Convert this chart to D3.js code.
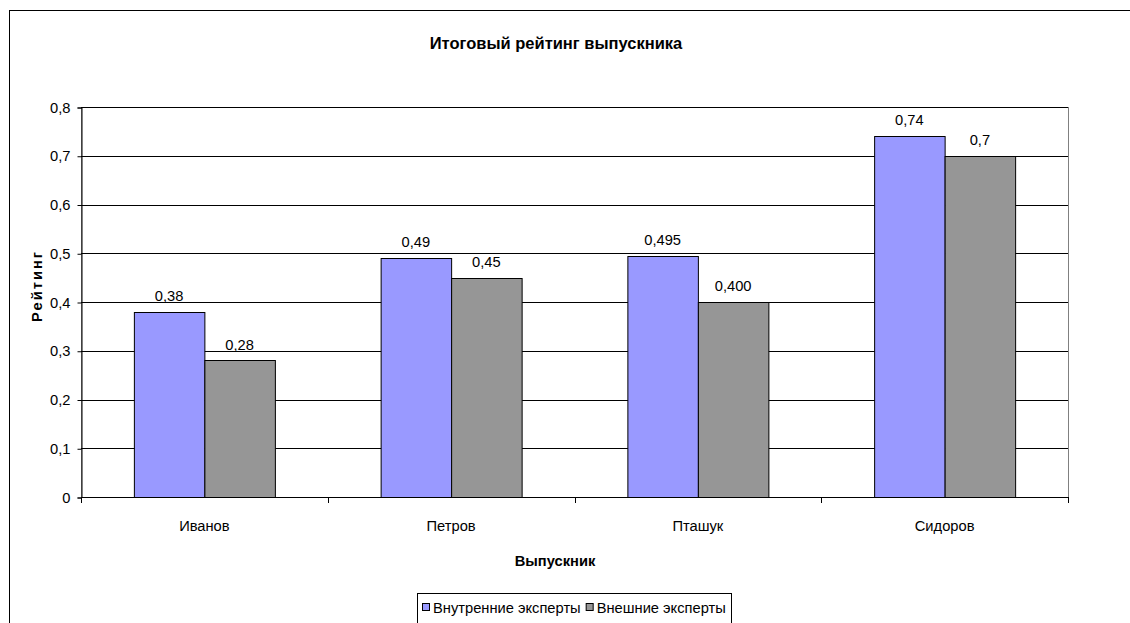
<!DOCTYPE html>
<html>
<head>
<meta charset="utf-8">
<script src="https://cdn.jsdelivr.net/npm/d3@7"></script>
<style>
  body { margin: 0; background: #fff; }
  svg { font-family: "Liberation Sans", Arial, sans-serif; }
</style>
</head>
<body>
<div id="chart"></div>
<script>
const categories = ['Иванов', 'Петров', 'Пташук', 'Сидоров'];
const seriesNames = ['Внутренние эксперты', 'Внешние эксперты'];
const innerValues = [0.38, 0.49, 0.495, 0.74];
const outerValues = [0.28, 0.45, 0.40, 0.70];
const innerLabels = ['0,38', '0,49', '0,495', '0,74'];
const outerLabels = ['0,28', '0,45', '0,400', '0,7'];
const yTicks = [0, 0.1, 0.2, 0.3, 0.4, 0.5, 0.6, 0.7, 0.8];

const COLORS = ['#9999ff', '#969696'];
const FS = '14.7px';

const W = 1130, H = 623;
const plot = { left: 81, right: 1068, top: 107, bottom: 497 };

const svg = d3.select('#chart').append('svg')
  .attr('width', W).attr('height', H);

// chart outer border
svg.append('rect')
  .attr('x', 9.5).attr('y', 10.5)
  .attr('width', W + 10).attr('height', H + 10)
  .attr('fill', 'none').attr('stroke', '#000').attr('stroke-width', 1);

svg.append('text')
  .attr('x', 556).attr('y', 49)
  .attr('text-anchor', 'middle')
  .style('font-size', '16.5px').style('font-weight', 'bold')
  .text('Итоговый рейтинг выпускника');

const x = d3.scaleBand().domain(categories)
  .range([plot.left, plot.right]).paddingInner(0).paddingOuter(0);
const y = d3.scaleLinear().domain([0, 0.8]).range([plot.bottom, plot.top]);

// bar width: Excel gap width 150%
const barW = x.bandwidth() / 3.5;

// plot area border (gray)
svg.append('rect')
  .attr('x', plot.left + 0.5).attr('y', plot.top + 0.5)
  .attr('width', plot.right - plot.left).attr('height', plot.bottom - plot.top)
  .attr('fill', 'none').attr('stroke', '#808080');

// gridlines
svg.append('g').selectAll('line').data(yTicks.slice(1)).enter().append('line')
  .attr('x1', plot.left).attr('x2', plot.right)
  .attr('y1', d => Math.round(y(d)) + 0.5).attr('y2', d => Math.round(y(d)) + 0.5)
  .attr('stroke', '#000').attr('stroke-width', 1);

const series = [
  { vals: innerValues, labels: innerLabels },
  { vals: outerValues, labels: outerLabels },
];

series.forEach((s, si) => {
  const g = svg.append('g');
  g.selectAll('rect').data(categories).enter().append('rect')
    .attr('x', (c) => x(c) + x.bandwidth() / 2 - barW + si * barW + 0.5)
    .attr('y', (c, i) => Math.round(y(s.vals[i])) + 0.5)
    .attr('width', barW)
    .attr('height', (c, i) => Math.round(y(0)) - Math.round(y(s.vals[i])))
    .attr('fill', COLORS[si]).attr('stroke', '#000').attr('stroke-width', 1);
  g.selectAll('text').data(categories).enter().append('text')
    .attr('x', (c) => x(c) + x.bandwidth() / 2 - barW / 2 + si * barW)
    .attr('y', (c, i) => y(s.vals[i]) - 11)
    .attr('text-anchor', 'middle')
    .style('font-size', FS)
    .text((c, i) => s.labels[i]);
});

// y axis
const yAxis = d3.axisLeft(y).tickValues(yTicks).tickSize(4).tickPadding(7)
  .tickFormat(d => d3.format('.1~f')(d).replace('.', ','));
const ya = svg.append('g').attr('transform', `translate(${plot.left + 0.5},0.5)`).call(yAxis);
ya.select('.domain').attr('stroke', '#000');
ya.selectAll('.tick line').attr('stroke', '#000');
ya.selectAll('.tick text').style('font-size', FS).attr('fill', '#000');

// x axis
svg.append('line')
  .attr('x1', plot.left).attr('x2', plot.right + 1)
  .attr('y1', plot.bottom + 0.5).attr('y2', plot.bottom + 0.5)
  .attr('stroke', '#000');
const bounds = categories.map(c => x(c)).concat([plot.right]);
svg.append('g').selectAll('line').data(bounds).enter().append('line')
  .attr('x1', d => Math.round(d) + 0.5).attr('x2', d => Math.round(d) + 0.5)
  .attr('y1', plot.bottom).attr('y2', plot.bottom + 6)
  .attr('stroke', '#000');
svg.append('g').selectAll('text').data(categories).enter().append('text')
  .attr('x', c => x(c) + x.bandwidth() / 2)
  .attr('y', 531)
  .attr('text-anchor', 'middle')
  .style('font-size', FS)
  .text(c => c);

// axis titles
svg.append('text')
  .attr('x', 555).attr('y', 566)
  .attr('text-anchor', 'middle')
  .style('font-size', FS).style('font-weight', 'bold')
  .text('Выпускник');

svg.append('text')
  .attr('transform', 'translate(42,286) rotate(-90)')
  .attr('text-anchor', 'middle')
  .style('font-size', FS).style('font-weight', 'bold')
  .style('letter-spacing', '2px')
  .text('Рейтинг');

// legend
const leg = svg.append('g');
leg.append('rect')
  .attr('x', 417.5).attr('y', 593.5).attr('width', 314).attr('height', 40)
  .attr('fill', '#fff').attr('stroke', '#000');
let lx = 422;
seriesNames.forEach((n, i) => {
  leg.append('rect')
    .attr('x', lx + 0.5).attr('y', 603.5).attr('width', 7).attr('height', 7)
    .attr('fill', COLORS[i]).attr('stroke', '#000');
  const t = leg.append('text')
    .attr('x', lx + 11).attr('y', 613)
    .style('font-size', FS)
    .text(n);
  lx += 11 + t.node().getComputedTextLength() + 5;
});
</script>
</body>
</html>
